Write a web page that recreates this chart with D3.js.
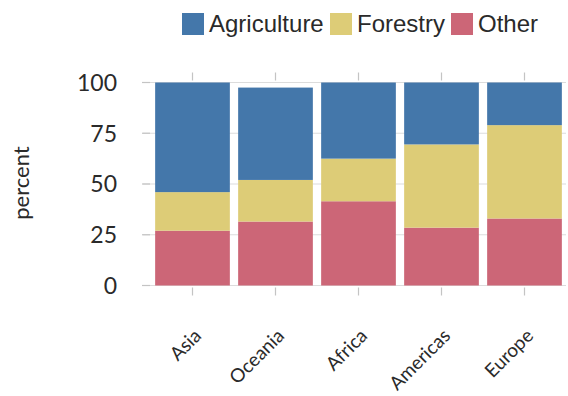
<!DOCTYPE html>
<html>
<head>
<meta charset="utf-8">
<script src="https://cdn.jsdelivr.net/npm/d3@7"></script>
<style>
  html, body { margin: 0; padding: 0; background: #fff; }
  svg { display: block; }
</style>
</head>
<body>
<svg id="chart" width="568" height="396"></svg>
<script>
// Land use share by region (percent)
const regions = ["Asia", "Oceania", "Africa", "Americas", "Europe"];
const seriesNames = ["Other", "Forestry", "Agriculture"];
const other = [27, 31.5, 41.5, 28.5, 33];
const forestry = [19, 20.5, 21, 41, 46];
const agriculture = [54, 45.5, 37.5, 30.5, 21];
const yTicks = [0, 25, 50, 75, 100];
const legendOrder = ["Agriculture", "Forestry", "Other"];

const colors = { Agriculture: "#4477aa", Forestry: "#ddcc77", Other: "#cc6677" };

const rows = regions.map((r, i) => ({
  region: r, Other: other[i], Forestry: forestry[i], Agriculture: agriculture[i]
}));

const svg = d3.select("#chart");
const plotLeft = 143, plotRight = 566, plotTop = 82.5, plotBottom = 285.5;

const x = d3.scaleBand().domain(regions).range([151, 566])
  .paddingInner(0.1).paddingOuter(0.05);
const y = d3.scaleLinear().domain([0, 100]).range([plotBottom, plotTop]);

// grid lines
svg.append("g").selectAll("line").data(yTicks).join("line")
  .attr("x1", plotLeft).attr("x2", plotRight)
  .attr("y1", d => y(d)).attr("y2", d => y(d))
  .attr("stroke", "#dcdcdc").attr("stroke-width", 1.2);

// y tick marks
svg.append("g").selectAll("line").data(yTicks).join("line")
  .attr("x1", plotLeft - 1).attr("x2", plotLeft + 7)
  .attr("y1", d => y(d)).attr("y2", d => y(d))
  .attr("stroke", "#c4c4c4").attr("stroke-width", 1.2);

// x tick marks above and below the plot
const tickG = svg.append("g");
regions.forEach(r => {
  const cx = x(r) + x.bandwidth() / 2;
  tickG.append("line").attr("x1", cx).attr("x2", cx).attr("y1", plotTop - 10).attr("y2", plotTop - 2)
    .attr("stroke", "#c4c4c4").attr("stroke-width", 1.2);
  tickG.append("line").attr("x1", cx).attr("x2", cx).attr("y1", plotBottom + 2).attr("y2", plotBottom + 10)
    .attr("stroke", "#c4c4c4").attr("stroke-width", 1.2);
});

// stacked bars
const stack = d3.stack().keys(seriesNames)(rows);
svg.append("g").selectAll("g").data(stack).join("g")
  .attr("fill", d => colors[d.key])
  .selectAll("rect").data(d => d).join("rect")
  .attr("x", d => x(d.data.region))
  .attr("width", x.bandwidth())
  .attr("y", d => y(d[1]))
  .attr("height", d => y(d[0]) - y(d[1]));

// y tick labels
svg.append("g").selectAll("text").data(yTicks).join("text")
  .attr("x", 117).attr("y", d => y(d)).attr("dy", "0.36em")
  .attr("text-anchor", "end")
  .attr("font-family", "Lato, sans-serif").attr("font-size", 23)
  .attr("fill", "#2a2a2a")
  .text(d => d);

// y axis title
svg.append("text")
  .attr("transform", "translate(29,183) rotate(-90)")
  .attr("text-anchor", "middle")
  .attr("font-family", "Lato, sans-serif").attr("font-size", 22)
  .attr("fill", "#2a2a2a")
  .text("percent");

// x labels, rotated
svg.append("g").selectAll("text").data(regions).join("text")
  .attr("transform", d => `translate(${x(d) + x.bandwidth() / 2 + 10},337) rotate(-45)`)
  .attr("text-anchor", "end")
  .attr("font-family", "Lato, sans-serif").attr("font-size", 19)
  .attr("fill", "#2a2a2a")
  .text(d => d);

// legend
const legendX = [182, 330, 451];
const lg = svg.append("g");
legendOrder.forEach((k, i) => {
  lg.append("rect").attr("x", legendX[i]).attr("y", 13).attr("width", 22).attr("height", 22)
    .attr("fill", colors[k]);
  lg.append("text").attr("x", legendX[i] + 27).attr("y", 32)
    .attr("font-family", "'Liberation Sans', Arial, sans-serif").attr("font-size", 24)
    .attr("fill", "#2a2a2a")
    .text(k);
});
</script>
</body>
</html>
